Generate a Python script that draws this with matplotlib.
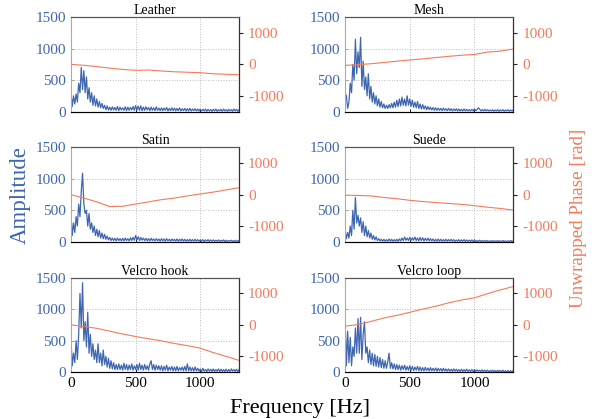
import numpy as np
import matplotlib
matplotlib.use('Agg')
import matplotlib.pyplot as plt

plt.rcParams['font.family'] = ['Liberation Serif', 'DejaVu Serif']
plt.rcParams['axes.unicode_minus'] = False

# frequency axis of the spectra (10 Hz steps) and of the phase curves (100 Hz steps)
freq = np.arange(0, 1301, 10)
freq_phase = np.arange(0, 1301, 100)

titles = ['Leather', 'Mesh', 'Satin', 'Suede', 'Velcro hook', 'Velcro loop']

amp_leather = [
    300, 80, 250, 120, 280, 150, 450, 300, 700, 350,
    650, 300, 550, 200, 380, 150, 300, 100, 250, 90,
    200, 70, 160, 60, 130, 50, 100, 30, 90, 25,
    70, 20, 75, 25, 65, 20, 80, 15, 70, 25,
    60, 20, 75, 15, 70, 20, 65, 25, 80, 20,
    95, 25, 85, 20, 90, 15, 70, 20, 75, 25,
    65, 15, 70, 20, 60, 15, 75, 20, 55, 15,
    60, 15, 55, 20, 65, 10, 50, 15, 60, 15,
    55, 10, 50, 15, 60, 10, 45, 15, 50, 10,
    45, 10, 50, 10, 40, 15, 45, 10, 40, 10,
    40, 10, 35, 10, 40, 5, 35, 10, 30, 5,
    35, 10, 40, 5, 30, 10, 35, 5, 40, 10,
    30, 5, 35, 10, 30, 5, 40, 10, 35, 5,
    30]
amp_mesh = [
    300, 250, 50, 150, 450, 300, 750, 500, 1150, 600,
    950, 700, 1180, 400, 800, 350, 550, 250, 600, 200,
    400, 150, 300, 120, 250, 90, 200, 70, 160, 60,
    120, 50, 100, 50, 110, 60, 130, 60, 150, 70,
    180, 80, 200, 90, 230, 100, 200, 90, 250, 100,
    200, 80, 180, 70, 150, 60, 160, 50, 120, 40,
    110, 40, 90, 30, 80, 30, 70, 25, 65, 20,
    60, 20, 55, 20, 50, 15, 55, 20, 45, 15,
    50, 15, 45, 10, 40, 15, 45, 10, 40, 10,
    35, 10, 40, 10, 35, 10, 30, 10, 35, 10,
    45, 15, 30, 60, 40, 10, 30, 10, 35, 10,
    30, 10, 25, 10, 30, 5, 25, 10, 30, 5,
    25, 10, 30, 5, 25, 10, 30, 5, 25, 10,
    25]
amp_satin = [
    450, 100, 300, 150, 400, 250, 600, 400, 800, 1090,
    600, 450, 500, 250, 450, 200, 300, 150, 250, 100,
    200, 80, 180, 60, 140, 50, 120, 40, 90, 30,
    70, 20, 60, 20, 55, 15, 60, 20, 50, 15,
    55, 15, 60, 20, 50, 15, 65, 20, 70, 25,
    100, 30, 80, 20, 70, 25, 60, 20, 55, 15,
    50, 15, 55, 20, 45, 15, 50, 15, 45, 10,
    50, 15, 45, 10, 50, 15, 40, 10, 45, 15,
    40, 10, 45, 10, 40, 15, 45, 10, 40, 10,
    35, 10, 40, 10, 35, 10, 40, 10, 35, 10,
    30, 10, 35, 5, 30, 10, 35, 5, 30, 10,
    30, 5, 25, 10, 30, 5, 25, 10, 30, 5,
    25, 5, 20, 10, 25, 5, 20, 5, 25, 5,
    20]
amp_suede = [
    200, 50, 150, 60, 250, 100, 500, 200, 705, 300,
    420, 250, 380, 150, 320, 100, 250, 80, 180, 60,
    140, 40, 100, 30, 80, 20, 50, 15, 40, 10,
    40, 10, 35, 10, 45, 10, 40, 10, 35, 10,
    40, 10, 45, 15, 60, 20, 75, 25, 60, 20,
    70, 20, 65, 25, 75, 20, 60, 15, 70, 20,
    65, 15, 55, 20, 60, 15, 50, 15, 45, 10,
    40, 10, 45, 10, 40, 10, 35, 10, 40, 10,
    35, 10, 40, 10, 35, 5, 30, 10, 35, 5,
    30, 10, 35, 5, 30, 10, 25, 5, 30, 5,
    25, 5, 20, 5, 25, 5, 20, 5, 20, 5,
    20, 5, 15, 5, 20, 5, 15, 5, 20, 5,
    15, 5, 20, 5, 15, 5, 15, 5, 20, 5,
    15]
amp_hook = [
    550, 100, 300, 150, 500, 200, 600, 1250, 700, 1420,
    500, 800, 400, 950, 300, 600, 250, 450, 200, 350,
    150, 450, 150, 300, 100, 350, 120, 250, 80, 220,
    60, 180, 50, 150, 40, 120, 40, 130, 40, 110,
    30, 140, 40, 120, 30, 110, 40, 130, 30, 100,
    40, 120, 30, 140, 40, 110, 30, 120, 40, 100,
    30, 130, 180, 40, 120, 30, 110, 40, 100, 30,
    100, 20, 90, 30, 110, 20, 80, 30, 90, 20,
    80, 20, 90, 20, 70, 30, 80, 20, 90, 20,
    130, 20, 80, 20, 70, 15, 80, 20, 60, 15,
    50, 10, 60, 15, 40, 10, 50, 15, 45, 10,
    50, 10, 40, 15, 50, 10, 45, 10, 40, 10,
    45, 10, 40, 10, 50, 15, 40, 10, 45, 10,
    40]
amp_loop = [
    850, 100, 650, 150, 550, 100, 400, 250, 700, 300,
    850, 300, 870, 200, 600, 800, 300, 400, 150, 350,
    120, 300, 100, 280, 90, 250, 80, 230, 70, 200,
    60, 180, 60, 160, 300, 60, 150, 50, 130, 40,
    120, 40, 110, 30, 100, 40, 110, 30, 90, 30,
    100, 30, 90, 25, 80, 30, 90, 25, 80, 20,
    70, 20, 75, 25, 65, 20, 70, 20, 60, 20,
    65, 15, 60, 20, 55, 15, 60, 15, 50, 15,
    50, 15, 45, 10, 50, 15, 45, 10, 40, 10,
    45, 10, 40, 10, 45, 10, 35, 10, 40, 10,
    40, 10, 35, 10, 30, 10, 35, 5, 30, 10,
    30, 5, 25, 10, 30, 5, 25, 5, 30, 5,
    25, 5, 30, 5, 20, 5, 25, 5, 20, 5,
    25]

phase_leather = [0, -30, -70, -120, -160, -190, -180, -210, -235, -250, -265, -300, -315, -330]
phase_mesh = [-30, -10, 20, 60, 100, 140, 175, 215, 255, 290, 315, 390, 420, 490]
phase_satin = [0, -110, -230, -380, -370, -300, -230, -160, -110, -40, 20, 80, 150, 220]
phase_suede = [-20, -25, -40, -90, -130, -180, -220, -250, -280, -310, -350, -400, -440, -490]
phase_hook = [0, -50, -110, -200, -290, -370, -440, -510, -590, -660, -740, -880, -1000, -1130]
phase_loop = [-40, 10, 110, 220, 300, 400, 500, 590, 700, 790, 860, 990, 1110, 1220]

amps = [amp_leather, amp_mesh, amp_satin, amp_suede, amp_hook, amp_loop]
phases = [phase_leather, phase_mesh, phase_satin, phase_suede, phase_hook, phase_loop]

blue = '#3f66b1'
orange = '#f47a5c'

fig, axes = plt.subplots(3, 2, figsize=(6.01, 4.19), dpi=100)
plt.subplots_adjust(left=0.118, right=0.854, bottom=0.112, top=0.959, wspace=0.63, hspace=0.38)

for i, ax in enumerate(axes.flat):
    ax.plot(freq, amps[i], color=blue, lw=0.9)
    ax.set_xlim(0, 1300)
    ax.set_ylim(0, 1500)
    ax.set_yticks([0, 500, 1000, 1500])
    ax.set_xticks([0, 500, 1000])
    ax.grid(True, ls=':', color='#bbbbbb', lw=0.7)
    ax.tick_params(axis='y', colors=blue, labelsize=11, direction='in', length=2, width=0.6)
    ax.tick_params(axis='y', color='#999999')
    ax.tick_params(axis='x', labelsize=11, direction='in', length=2, width=0.6)
    ax.set_title(titles[i], fontsize=10, pad=2)
    if i < 4:
        ax.tick_params(axis='x', labelbottom=False)
    ax.spines['left'].set_color('#aaaaaa')
    ax.spines['bottom'].set_color('#333333')
    ax.spines['top'].set_color('#555555')

    ax2 = ax.twinx()
    ax2.plot(freq_phase, phases[i], color=orange, lw=0.8)
    ax2.set_ylim(-1500, 1500)
    ax2.set_yticks([-1000, 0, 1000])
    ax2.tick_params(axis='y', colors=orange, labelsize=11, length=3, width=0.8)
    ax2.tick_params(axis='y', color='#222222')
    ax2.spines['right'].set_color('#333333')
    ax2.spines['left'].set_visible(False)
    ax2.spines['top'].set_color('#555555')

fig.text(0.034, 0.535, 'Amplitude', color=blue, fontsize=16.5, rotation=90, ha='center', va='center')
fig.text(0.962, 0.48, 'Unwrapped Phase [rad]', color=orange, fontsize=13.7, rotation=90, ha='center', va='center')
fig.text(0.5, 0.026, 'Frequency [Hz]', fontsize=16, ha='center', va='center')

plt.savefig('out.png', dpi=100)
